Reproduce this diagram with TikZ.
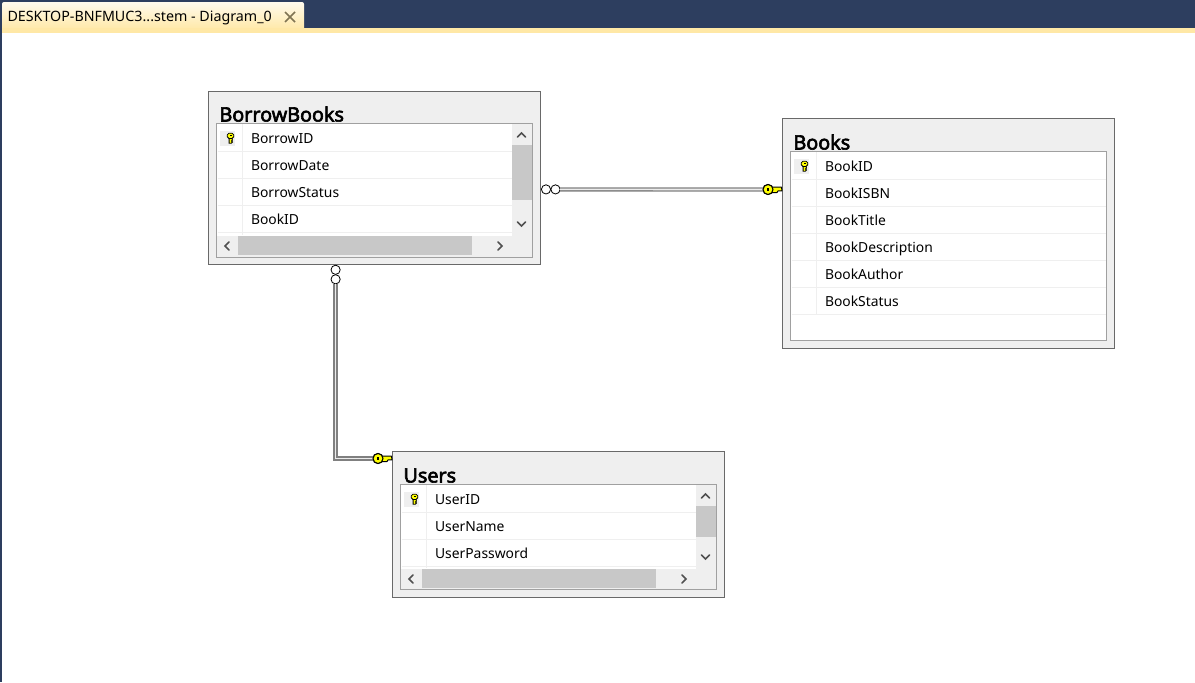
\documentclass[tikz,border=0pt]{standalone}
\usepackage{fontspec}
\setmainfont{Noto Sans}
\newfontfamily\titlefont[FakeBold=3]{Noto Sans}
\usetikzlibrary{calc}
\definecolor{navy}{HTML}{2D3E5F}
\definecolor{tabY}{HTML}{FFE8A6}
\definecolor{panel}{HTML}{EFEFEF}
\definecolor{frameD}{HTML}{696969}
\definecolor{frameL}{HTML}{A0A0A0}
\definecolor{rowline}{HTML}{EFEFEF}
\definecolor{thumb}{HTML}{C8C8C8}
\definecolor{chev}{HTML}{505050}
\definecolor{keyY}{HTML}{FFFF00}
\tikzset{
  x=0.75pt,y=-0.75pt,
  every node/.style={inner sep=0pt,outer sep=0pt},
  outerbox/.style={draw=frameD,fill=panel,line width=0.9pt},
  innerbox/.style={draw=frameL,fill=white,line width=0.9pt},
  rowsep/.style={draw=rowline,line width=0.75pt},
  thumbbar/.style={fill=thumb,draw=none},
  chevron/.style={draw=chev,line width=1.1pt,line cap=round,line join=miter},
  tabletitle/.style={anchor=base west,font=\fontsize{14.8pt}{16pt}\titlefont,text=black},
  fieldtext/.style={anchor=base west,font=\fontsize{10.4pt}{12pt}\selectfont,text=black},
  link/.style={draw=black!50,line width=1pt,double=white!85!gray,double distance=1.2pt},
  ring/.style={circle,draw=black,fill=white,line width=0.6pt,minimum size=9.2*0.75pt},
  keyhead/.style={circle,draw=black,fill=keyY,line width=0.8pt,minimum size=10*0.75pt},
  keyshaft/.style={fill=keyY,draw=black,line width=0.75pt,line join=round}
}
% small key icon, centre at #1
\newcommand{\smallkey}[1]{%
  \fill[panel] ($(#1)+(-10.5,-7.5)$) rectangle ($(#1)+(4.5,7.5)$);
  \fill[keyY,draw=black,line width=0.6pt,rounded corners=1.2pt] ($(#1)+(-3.2,-4.8)$) rectangle ($(#1)+(3.2,0.4)$);
  \fill[keyY,draw=black,line width=0.6pt] ($(#1)+(-1.4,0.4)$) -- ($(#1)+(-1.4,5.2)$) -- ($(#1)+(0.8,5.2)$) -- ($(#1)+(2,4)$) -- ($(#1)+(1,3)$) -- ($(#1)+(2,2)$) -- ($(#1)+(1.4,0.4)$) -- cycle;
  \fill[black] ($(#1)+(-1,-3.3)$) rectangle ($(#1)+(1,-1.8)$);
}
% scrollbar arrows
\newcommand{\chevup}[1]{\draw[chevron] ($(#1)+(-4,2)$) -- ($(#1)+(0,-2)$) -- ($(#1)+(4,2)$);}
\newcommand{\chevdown}[1]{\draw[chevron] ($(#1)+(-4,-2)$) -- ($(#1)+(0,2)$) -- ($(#1)+(4,-2)$);}
\newcommand{\chevleft}[1]{\draw[chevron] ($(#1)+(2,-4)$) -- ($(#1)+(-2,0)$) -- ($(#1)+(2,4)$);}
\newcommand{\chevright}[1]{\draw[chevron] ($(#1)+(-2,-4)$) -- ($(#1)+(2,0)$) -- ($(#1)+(-2,4)$);}
\begin{document}
\begin{tikzpicture}
\useasboundingbox (0,0) rectangle (1195,682);
\fill[white] (0,0) rectangle (1195,682);
% window chrome
\fill[navy] (0,0) rectangle (1195,28);
\fill[navy] (0,0) rectangle (2,682);
\shade[top color=white!80!tabY,bottom color=tabY,draw=none,rounded corners=1.5pt] (2,2) rectangle (304,30);
\fill[tabY] (2,27.5) rectangle (1195,33);
\node[anchor=base west,font=\fontsize{10.7pt}{12pt}\selectfont,text=black] (tabtitle) at (7.5,21.5) {DESKTOP-BNFMUC3...stem - Diagram\_0};
\draw[draw=black!50!tabY,line width=1.3pt] (285,12) -- (295,22) (295,12) -- (285,22);

% BorrowBooks
\draw[outerbox] (208.5,91.3) rectangle (540.5,264.5);
\node[tabletitle] (bbTitle) at (219.5,121.5) {BorrowBooks};
\draw[innerbox] (216.5,123.5) rectangle (532.5,257.5);
\foreach \yy in {151.5,178.5,205.5,232.5} \draw[rowsep] (217.5,\yy) -- (511.5,\yy);
\draw[rowsep] (242.5,124) -- (242.5,235);
\fill[panel] (217,235.5) rectangle (532,257);
\fill[panel] (512,124) rectangle (532,235.5);
\fill[thumbbar] (512,145) rectangle (531.5,200);
\fill[thumbbar] (238,236) rectangle (472,255);
\chevup{521.5,135}\chevdown{521.5,224}\chevleft{227,246}\chevright{500,246}
\smallkey{230.5,138}
\node[fieldtext] (bbA) at (251,143) {BorrowID};
\node[fieldtext] (bbB) at (251,170) {BorrowDate};
\node[fieldtext] (bbC) at (251,197) {BorrowStatus};
\node[fieldtext] (bbD) at (251,224) {BookID};

% Books
\draw[outerbox] (782.5,118.5) rectangle (1114.5,348.5);
\node[tabletitle] (bkTitle) at (793.5,149.5) {Books};
\draw[innerbox] (790.5,151.5) rectangle (1106.5,340.5);
\foreach \yy in {179.5,206.5,233.5,260.5,287.5,314.5} \draw[rowsep] (791.5,\yy) -- (1105.5,\yy);
\draw[rowsep] (816.5,152) -- (816.5,314.5);
\smallkey{804.5,166}
\node[fieldtext] (bkA) at (825,171) {BookID};
\node[fieldtext] (bkB) at (825,198) {BookISBN};
\node[fieldtext] (bkC) at (825,225) {BookTitle};
\node[fieldtext] (bkD) at (825,252) {BookDescription};
\node[fieldtext] (bkE) at (825,279) {BookAuthor};
\node[fieldtext] (bkF) at (825,306) {BookStatus};

% Users
\draw[outerbox] (392.5,451.5) rectangle (724.5,597.5);
\node[tabletitle] (usTitle) at (403.5,482.5) {Users};
\draw[innerbox] (400.5,484.5) rectangle (716.5,589.5);
\foreach \yy in {512.5,539.5,566.5} \draw[rowsep] (401.5,\yy) -- (695.5,\yy);
\draw[rowsep] (426.5,485) -- (426.5,568);
\fill[panel] (401,568.5) rectangle (716,589);
\fill[panel] (696,485) rectangle (716,568.5);
\fill[thumbbar] (696,506) rectangle (715.5,537);
\fill[thumbbar] (422,569) rectangle (656,588);
\chevup{705.5,496}\chevdown{705.5,557}\chevleft{411,579}\chevright{684,579}
\smallkey{414.5,499}
\node[fieldtext] (usA) at (435,504) {UserID};
\node[fieldtext] (usB) at (435,531) {UserName};
\node[fieldtext] (usC) at (435,558) {UserPassword};

% connector ends
\node[ring] (r1a) at (546,189.4) {};
\node[ring] (r1b) at (555.5,189.4) {};
\node[ring] (r2a) at (335.6,269.8) {};
\node[ring] (r2b) at (335.6,279.3) {};
\node[keyhead] (k1) at (768,189.5) {};
\node[keyhead] (k2) at (378,458.5) {};
% connectors
\draw[link] (r1b) -- (k1);
\draw[link] (r2b) |- (k2);
% key shafts
\foreach \kk in {k1,k2}{
  \path[keyshaft] ($(\kk)+(3,-2.4)$) -- ($(\kk)+(13.5,-2.4)$) -- ($(\kk)+(14,1.4)$) -- ($(\kk)+(10,1.4)$) -- ($(\kk)+(9,3)$) -- ($(\kk)+(3,3)$) -- cycle;
  \node[keyhead] at (\kk) {};
  \fill[black] ($(\kk)+(-1.2,-1.5)$) rectangle ($(\kk)+(1.2,1.5)$);
}
\end{tikzpicture}
\end{document}
